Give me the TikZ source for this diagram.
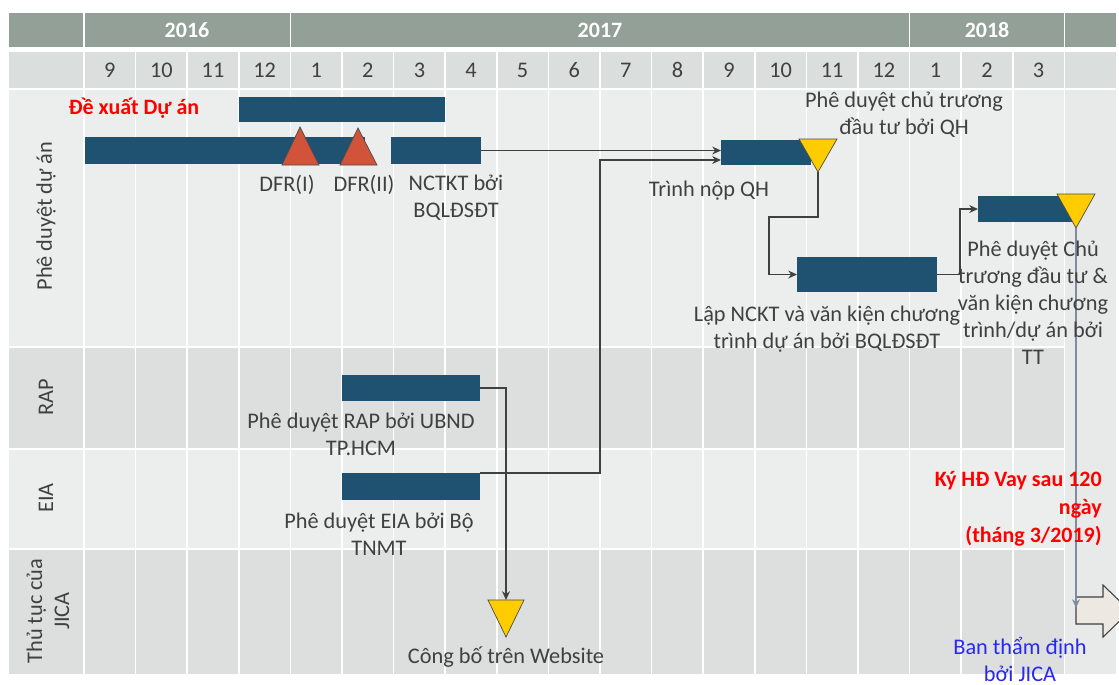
\documentclass[tikz,border=0pt]{standalone}
\usepackage{fontspec}
\setmainfont{Carlito}
\usetikzlibrary{positioning,fit,arrows.meta,calc}
\definecolor{headgreen}{RGB}{146,160,151}
\definecolor{monthgray}{RGB}{218,222,220}
\definecolor{rowlight}{RGB}{236,238,237}
\definecolor{rowdark}{RGB}{220,223,222}
\definecolor{sidegray}{RGB}{232,234,233}
\definecolor{taskblue}{RGB}{31,81,112}
\definecolor{dfrred}{RGB}{208,83,58}
\definecolor{mileyellow}{RGB}{255,204,0}
\definecolor{textgray}{RGB}{64,64,64}
\definecolor{linkgray}{RGB}{64,64,64}
\definecolor{jicaline}{RGB}{127,140,160}
\definecolor{jicablue}{RGB}{40,40,240}
\definecolor{signred}{RGB}{255,0,0}
\definecolor{blockfill}{RGB}{238,232,226}

\begin{document}
\begin{tikzpicture}[x=0.02cm, y=-0.02cm, >=Stealth,
    cell/.style={draw=white, line width=0.85pt},
    task/.style={fill=taskblue, inner sep=0pt, outer sep=0pt},
    lbl/.style={text=textgray, font=\fontsize{12.7}{15.3}\selectfont, align=center, inner sep=0pt},
    yearlbl/.style={text=white, font=\fontsize{12.5}{15}\selectfont\bfseries, inner sep=0pt},
    redlbl/.style={text=signred, font=\fontsize{12.5}{15.3}\selectfont\bfseries, inner sep=0pt},
    link/.style={draw=linkgray, line width=0.7pt, -{Stealth[length=5pt,width=4.5pt]}},
    dfr/.style={fill=dfrred, draw=black!70, line width=0.4pt},
    due/.style={fill=mileyellow, draw=black!70, line width=0.4pt},
]
    \useasboundingbox (0,0) rectangle (1119,684);

    % Year header
    \path[cell, fill=headgreen] (8,12) rectangle (84,48);
    \path[cell, fill=headgreen] (84,12) rectangle (290.4,48);
    \path[cell, fill=headgreen] (290.4,12) rectangle (909.6,48);
    \path[cell, fill=headgreen] (909.6,12) rectangle (1064.4,48);
    \path[cell, fill=headgreen] (1064.4,12) rectangle (1117,48);
    \node[yearlbl] (y2016) at (187,30) {2016};
    \node[yearlbl] (y2017) at (600,30) {2017};
    \node[yearlbl] (y2018) at (987,30) {2018};

    % Month header
    \path[cell, fill=monthgray] (8,51) rectangle (84,89);
    \path[cell, fill=monthgray] (1064.4,51) rectangle (1117,89);
    \foreach \m [count=\i from 0] in {9,10,11,12,1,2,3,4,5,6,7,8,9,10,11,12,1,2,3} {
        \path[cell, fill=monthgray] ({84+\i*51.6},51) rectangle ({84+(\i+1)*51.6},89);
        \node[lbl] (m\i) at ({84+(\i+0.5)*51.6},70) {\m};
    }

    % Body rows
    \foreach \ya/\yb/\shade in {89/347/rowlight, 347/449/rowdark, 449/549/rowlight, 549/675/rowdark} {
        \path[cell, fill=\shade] (8,\ya) rectangle (84,\yb);
        \foreach \i in {0,...,18} {
            \path[cell, fill=\shade] ({84+\i*51.6},\ya) rectangle ({84+(\i+1)*51.6},\yb);
        }
    }
    \path[cell, fill=sidegray] (1064.4,89) rectangle (1117,675);

    % Row titles
    \node[lbl, rotate=90] (rowpd) at (46,216) {Phê duyệt dự án};
    \node[lbl, rotate=90] (rowrap) at (46,397) {RAP};
    \node[lbl, rotate=90] (roweia) at (46,498) {EIA};
    \node[lbl, rotate=90] (rowjica) at (48,611) {Thủ tục của\\JICA};

    % Tasks
    \node[task, fit={(239,97) (445,122)}] (propose) {};
    \node[task, fit={(85,137) (365,164)}] (dfr) {};
    \node[task, fit={(391,137) (481,164)}] (nctkt) {};
    \node[task, fit={(721,140) (811,165)}] (submit) {};
    \node[task, fit={(797,257) (937,292)}] (fs) {};
    \node[task, fit={(978,196) (1074,222)}] (ttbar) {};
    \node[task, fit={(342,375) (480,401)}] (rap) {};
    \node[task, fit={(342,473) (480,500)}] (eia) {};

    % Milestones
    \draw[dfr] (282,165) -- (300,127) -- (319,165) -- cycle;
    \draw[dfr] (340,165) -- (358,128) -- (377,165) -- cycle;
    \draw[due] (799,139) -- (837,139) -- (818,172) -- cycle;
    \coordinate (qhdue) at (818,172);
    \draw[due] (1057,194) -- (1095,194) -- (1076,228) -- cycle;
    \coordinate (ttdue) at (1076,228);
    \draw[due] (488,600) -- (524,600) -- (506,637) -- cycle;
    \coordinate (webtop) at (506,600);

    % JICA appraisal arrow
    \draw[fill=blockfill, draw=black!75, line width=0.6pt]
        (1076,597) -- (1103,597) -- (1103,585) -- (1130,611) -- (1103,637) -- (1103,624) -- (1076,624) -- cycle;
    \coordinate (jicain) at (1076,608);

    % Links
    \draw[link] (nctkt.east) -- (nctkt.east -| submit.west);
    \draw[link] (eia.north east) -- ++(120,0) |- ([yshift=-0.15cm]submit.west);
    \draw[link] (qhdue) |- ++(-49,45) |- (fs.west);
    \draw[link] (fs.east) -- ++(23,0) |- (ttbar.west);
    \draw[link] (rap.east) -| (webtop);
    \draw[jicaline, line width=0.7pt, -{Stealth[length=5pt,width=4.5pt]}] (ttdue) -- (jicain);

    % Labels
    \node[redlbl] (proposelbl) at (134,108) {Đề xuất Dự án};
    \node[lbl] (dfr1lbl) at (287,185) {DFR(I)};
    \node[lbl] (dfr2lbl) at (364,185) {DFR(II)};
    \node[lbl] (nctktlbl) at (456,198) {NCTKT bởi\\BQLĐSĐT};
    \node[lbl] (qhlbl) at (904,114.5) {Phê duyệt chủ trương\\đầu tư bởi QH};
    \node[lbl] (submitlbl) at (709,191) {Trình nộp QH};
    \node[lbl] (fslbl) at (827,329.5) {Lập NCKT và văn kiện chương\\trình dự án bởi BQLĐSĐT};
    \node[lbl] (ttlbl) at (1033,302.5) {Phê duyệt Chủ\\trương đầu tư \&\\văn kiện chương\\trình/dự án bởi\\TT};
    \node[lbl] (raplbl) at (361,434) {Phê duyệt RAP bởi UBND\\TP.HCM};
    \node[lbl] (eialbl) at (379,534) {Phê duyệt EIA bởi Bộ\\TNMT};
    \node[lbl] (weblbl) at (506,657) {Công bố trên Website};
    \node[redlbl, align=right, anchor=east, font=\fontsize{12.5}{15.8}\selectfont\bfseries] (loanlbl) at (1102,509) {Ký HĐ Vay sau 120\\ngày\\(tháng 3/2019)};
    \node[lbl, text=jicablue] (jicalbl) at (1020,659) {Ban thẩm định\\bởi JICA};
\end{tikzpicture}
\end{document}
